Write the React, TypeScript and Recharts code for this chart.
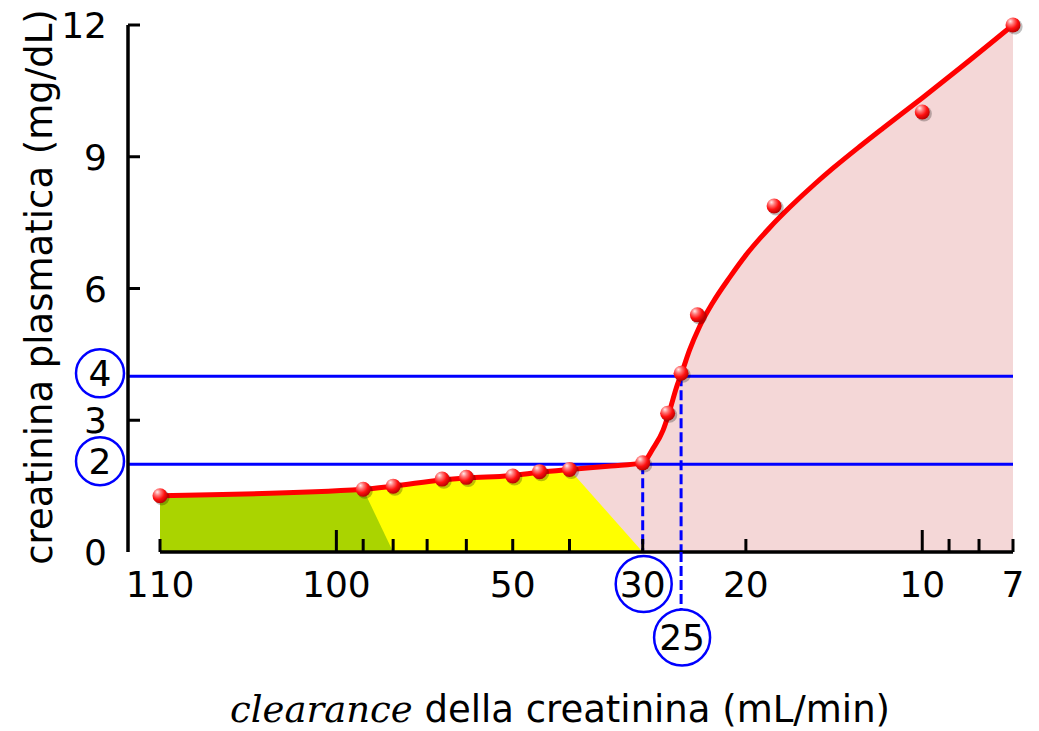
import React from 'react';
import { ComposedChart, XAxis, YAxis, Area, Line, Scatter, ReferenceLine } from 'recharts';

// Measured points: creatinine clearance (mL/min) vs plasma creatinine (mg/dL)
const ballClearance = [110, 90, 80, 66, 60, 50, 45, 40, 30, 27.2, 25.8, 24.2, 17.9, 10, 7];
const ballCreatinine = [1.28, 1.43, 1.5, 1.66, 1.7, 1.73, 1.83, 1.88, 2.03, 3.16, 4.07, 5.4, 7.88, 10.02, 12];

// Fitted red curve
const curveClearance = [110, 90, 80, 66, 60, 50, 45, 40, 34, 30, 28.8, 27.7, 27.0, 26.3, 25.6, 24.95, 24.0, 22.8, 21.3, 20.0, 18.2, 16.8, 15.24, 14.2, 12.77, 11.67, 10.0, 8.62, 7];
const curveCreatinine = [1.28, 1.43, 1.5, 1.64, 1.685, 1.74, 1.815, 1.88, 1.96, 2.03, 2.36, 2.77, 3.21, 3.73, 4.17, 4.6, 5.13, 5.67, 6.26, 6.76, 7.39, 7.86, 8.385, 8.74, 9.24, 9.65, 10.34, 11.02, 12];

// Stage zone boundaries (clearance)
const greenUpper = 90;
const greenLower = 80;
const yellowUpper = 40;
const yellowLower = 30;

// Axis ticks
const xTickValues = [110, 100, 90, 80, 70, 60, 50, 40, 30, 25.8, 20, 10, 9, 8, 7];
const xTickLabels = ['110', '100', '', '', '', '', '50', '', '30', '25', '20', '10', '', '', '7'];
const xTallTicks = [100, 10];
const xCircledTick = 30;
const xMarkerTick = 25.8;
const yTickValues = [0, 2, 3, 4, 6, 9, 12];
const yCircled = [2, 4];

// Threshold lines
const thresholdCreatinine = [2, 4];
const thresholdClearance = [30, 25.8];

// Broken log axis: 100..7 on a log scale, 110..100 drawn one halving wide
const LOG2 = Math.log10(2);
const toAxis = (c: number) => (c <= 100 ? Math.log10(100 / c) : (-(c - 100) / 10) * LOG2);

const table = curveClearance.map((c, i) => {
  const v = curveCreatinine[i];
  return {
    pos: toAxis(c),
    curve: v,
    green: c >= greenUpper ? v : c === greenLower ? 0 : undefined,
    yellow: c >= yellowUpper ? v : c === yellowLower ? 0 : undefined,
    pink: c <= yellowUpper ? v : undefined,
  };
});

const balls = ballClearance.map((c, i) => ({ pos: toAxis(c), ball: ballCreatinine[i] }));
const xTickPos = xTickValues.map(toAxis);

const FONT = 'DejaVu Sans';
const BLUE = '#0000ff';

const XTick = (props: any) => {
  const { x, y, payload } = props;
  const i = xTickPos.findIndex((p) => Math.abs(p - payload.value) < 1e-9);
  if (i < 0) return null;
  const c = xTickValues[i];
  const label = xTickLabels[i];
  if (c === xMarkerTick) {
    return (
      <g>
        <line x1={x} y1={y} x2={x} y2={y + 57} stroke={BLUE} strokeWidth={3} strokeDasharray="10 4" />
        <circle cx={x + 1} cy={y + 85.5} r={28} fill="none" stroke={BLUE} strokeWidth={2.5} />
        <text x={x + 1} y={y + 98} textAnchor="middle" fontFamily={FONT} fontSize={36} fill="#000">{label}</text>
      </g>
    );
  }
  const tall = xTallTicks.includes(c);
  return (
    <g>
      <line x1={x} y1={y} x2={x} y2={y - (tall ? 22 : 13)} stroke="#000" strokeWidth={3} />
      {c === xCircledTick && (
        <circle cx={x + 1} cy={y + 32} r={28} fill="none" stroke={BLUE} strokeWidth={2.5} />
      )}
      {label && (
        <text x={x} y={y + 45} textAnchor="middle" fontFamily={FONT} fontSize={36} fill="#000">{label}</text>
      )}
    </g>
  );
};

const YTick = (props: any) => {
  const { x, y, payload } = props;
  const v = payload.value;
  if (yCircled.includes(v)) {
    return (
      <g>
        <circle cx={x - 28} cy={y - 3} r={24} fill="none" stroke={BLUE} strokeWidth={2.5} />
        <text x={x - 28} y={y + 10} textAnchor="middle" fontFamily={FONT} fontSize={36} fill="#000">{v}</text>
      </g>
    );
  }
  return (
    <g>
      {v !== 0 && <line x1={x} y1={y} x2={x + 12} y2={y} stroke="#000" strokeWidth={3} />}
      <text x={x - 21} y={y + 13} textAnchor="end" fontFamily={FONT} fontSize={36} fill="#000">{v}</text>
    </g>
  );
};

const Ball = (props: any) => {
  const { cx, cy } = props;
  if (cx == null || cy == null) return null;
  return (
    <g>
      <defs>
        <radialGradient id="ballGrad" cx="0.38" cy="0.32" r="0.72" fx="0.32" fy="0.25">
          <stop offset="0" stopColor="#ffecec" />
          <stop offset="0.28" stopColor="#ff7a7a" />
          <stop offset="0.62" stopColor="#ff1010" />
          <stop offset="1" stopColor="#b00000" />
        </radialGradient>
      </defs>
      <circle cx={cx + 1.8} cy={cy + 1.8} r={7.8} fill="#000" opacity={0.25} />
      <circle cx={cx} cy={cy} r={7.5} fill="url(#ballGrad)" />
    </g>
  );
};

const XTitle = () => (
  <text x={560} y={722} textAnchor="middle" fontFamily={FONT} fontSize={37} fill="#000">
    <tspan fontFamily="DejaVu Serif" fontStyle="italic">clearance</tspan>
    <tspan>{' della creatinina (mL/min)'}</tspan>
  </text>
);

const YTitle = () => (
  <text transform="translate(52, 287) rotate(-90)" textAnchor="middle" fontFamily={FONT} fontSize={37} fill="#000">
    creatinina plasmatica (mg/dL)
  </text>
);

export default function App() {
  return (
    <div style={{ position: 'absolute', left: 0, top: 0, width: 1039, height: 731, background: '#fff' }}>
      <ComposedChart
        width={1039}
        height={731}
        data={table}
        margin={{ top: 25, right: 26, bottom: 79, left: 0 }}
      >
        <XAxis
          type="number"
          dataKey="pos"
          domain={[toAxis(110), toAxis(7)]}
          ticks={xTickPos}
          interval={0}
          padding={{ left: 32, right: 0 }}
          height={100}
          tickSize={0}
          tickMargin={0}
          axisLine={false}
          tickLine={false}
          tick={<XTick />}
          label={<XTitle />}
        />
        <YAxis
          type="number"
          domain={[0, 12]}
          ticks={yTickValues}
          interval={0}
          width={128}
          tickSize={0}
          tickMargin={0}
          axisLine={{ stroke: '#000', strokeWidth: 3.5 }}
          tickLine={false}
          tick={<YTick />}
          label={<YTitle />}
        />
        <Area dataKey="pink" type="monotone" fill="#f4d7d7" fillOpacity={1} stroke="none" connectNulls isAnimationActive={false} />
        <Area dataKey="yellow" type="linear" fill="#ffff00" fillOpacity={1} stroke="none" connectNulls isAnimationActive={false} />
        <Area dataKey="green" type="linear" fill="#aad400" fillOpacity={1} stroke="none" connectNulls isAnimationActive={false} />
        {thresholdCreatinine.map((v) => (
          <ReferenceLine key={`h${v}`} y={v} stroke={BLUE} strokeWidth={3} />
        ))}
        {thresholdClearance.map((c, i) => (
          <ReferenceLine
            key={`v${c}`}
            segment={[{ x: toAxis(c), y: thresholdCreatinine[i] }, { x: toAxis(c), y: 0 }]}
            stroke={BLUE}
            strokeWidth={3}
            strokeDasharray="10 4"
          />
        ))}
        <ReferenceLine
          segment={[{ x: toAxis(110), y: 0 }, { x: toAxis(7), y: 0 }]}
          stroke="#000"
          strokeWidth={3.5}
        />
        <Line dataKey="curve" type="monotone" stroke="#ff0000" strokeWidth={5} dot={false} activeDot={false} isAnimationActive={false} />
        <Scatter data={balls} dataKey="ball" shape={Ball} isAnimationActive={false} />
      </ComposedChart>
    </div>
  );
}
